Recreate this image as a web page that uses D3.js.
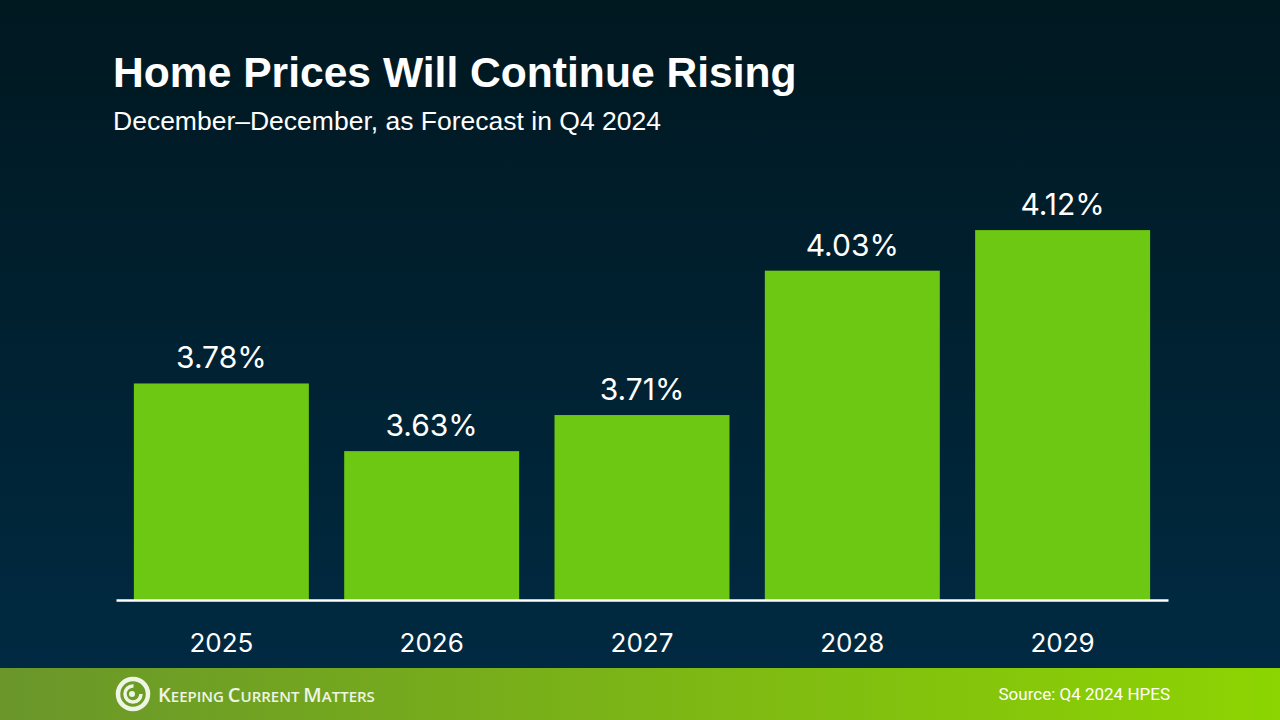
<!DOCTYPE html>
<html><head><meta charset="utf-8">
<script src="https://cdn.jsdelivr.net/npm/d3@7"></script>
<style>html,body{margin:0;padding:0;background:#001a26;}svg{display:block;}</style>
</head><body>
<svg id="chart" width="1280" height="720"></svg>
<script>
const years = ["2025","2026","2027","2028","2029"];
const values = [3.78, 3.63, 3.71, 4.03, 4.12];
const valueLabels = ["3.78%","3.63%","3.71%","4.03%","4.12%"];
const titleText = "Home Prices Will Continue Rising";
const subtitleText = "December\u2013December, as Forecast in Q4 2024";
const sourceText = "Source: Q4 2024 HPES";

const svg = d3.select("#chart");
const defs = svg.append("defs");
const bg = defs.append("linearGradient").attr("id","bg").attr("x1",0).attr("y1",0).attr("x2",0).attr("y2",1);
bg.append("stop").attr("offset","0%").attr("stop-color","#001820");
bg.append("stop").attr("offset","100%").attr("stop-color","#002a42");
const fg = defs.append("linearGradient").attr("id","foot").attr("x1",0).attr("y1",0).attr("x2",1).attr("y2",0);
fg.append("stop").attr("offset","0%").attr("stop-color","#6a962a");
fg.append("stop").attr("offset","100%").attr("stop-color","#8dd402");

svg.append("rect").attr("width",1280).attr("height",668).attr("fill","url(#bg)");
svg.append("rect").attr("y",668).attr("width",1280).attr("height",52).attr("fill","url(#foot)");

svg.append("text").attr("x",113).attr("y",87).attr("fill","#fff")
  .style("font-family","'Liberation Sans', Arial, sans-serif").style("font-weight","bold").style("font-size","42.6px")
  .text(titleText);
svg.append("text").attr("x",113).attr("y",130).attr("fill","#fff")
  .style("font-family","'Liberation Sans', Arial, sans-serif").style("font-size","26.5px")
  .text(subtitleText);

const x = d3.scaleBand().domain(years).range([116,1168]).paddingInner(0.168).paddingOuter(0.085);
const y = d3.scaleLinear().domain([3.3,4.2]).range([600,194]);

const data = years.map((yv,i)=>({year:yv, value:values[i], label:valueLabels[i]}));

svg.selectAll("rect.bar").data(data).enter().append("rect").attr("class","bar")
  .attr("x",d=>x(d.year)).attr("width",x.bandwidth())
  .attr("y",d=>y(d.value)).attr("height",d=>600-y(d.value))
  .attr("fill","#6cc812");

svg.selectAll("text.val").data(data).enter().append("text").attr("class","val")
  .attr("x",d=>x(d.year)+x.bandwidth()/2).attr("y",d=>y(d.value)-15)
  .attr("text-anchor","middle").attr("fill","#fff")
  .style("font-family","Inter, sans-serif").style("font-size","30px")
  .text(d=>d.label);

const xAxis = svg.append("g").attr("transform","translate(0,600)")
  .call(d3.axisBottom(x).tickSize(0).tickPadding(0));
xAxis.select(".domain").attr("stroke","#fff").attr("stroke-width",2.5);
xAxis.selectAll("text").attr("y",52).attr("dy",0).attr("fill","#fff")
  .style("font-family","Inter, sans-serif").style("font-size","26px");

// footer logo
const lg = svg.append("g").attr("transform","translate(133,694)");
lg.append("circle").attr("r",15).attr("fill","none").attr("stroke","#eef5e4").attr("stroke-width",4.5);
lg.append("circle").attr("r",8).attr("fill","none").attr("stroke","#eef5e4").attr("stroke-width",3.5)
  .attr("stroke-dasharray","38 12");
lg.append("circle").attr("cx",-1).attr("cy",0).attr("r",3).attr("fill","#eef5e4");

const logoText = svg.append("text").attr("x",158).attr("y",702).attr("fill","#eef5e4")
  .style("font-family","'Open Sans', sans-serif").style("font-weight","600").style("font-size","20px");
[["K","EEPING "],["C","URRENT "],["M","ATTERS"]].forEach(p=>{
  logoText.append("tspan").text(p[0]);
  logoText.append("tspan").style("font-size","15px").text(p[1]);
});

svg.append("text").attr("x",1170).attr("y",700).attr("text-anchor","end").attr("fill","#fff")
  .style("font-family","Roboto, sans-serif").style("font-size","17px").text(sourceText);
</script>
</body></html>
